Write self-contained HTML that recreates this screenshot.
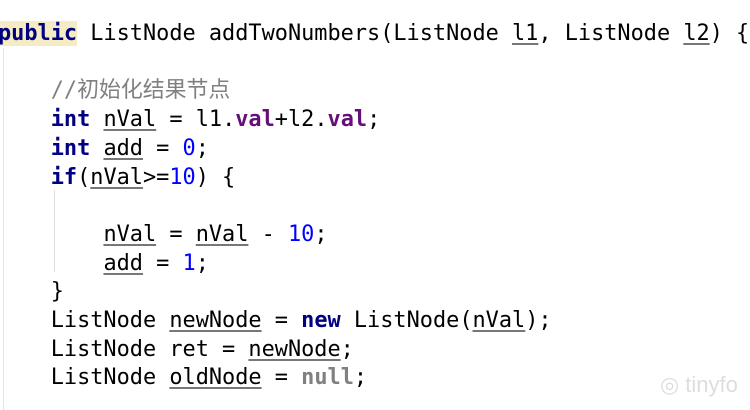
<!DOCTYPE html>
<html><head><meta charset="utf-8"><style>
body{margin:0;width:750px;height:410px;background:#fff;position:relative;overflow:hidden;font-family:"DejaVu Sans Mono","Liberation Mono","Noto Sans CJK SC",monospace;font-size:21.9px;color:#000}
.l{position:absolute;left:-2px;height:28.7px;line-height:28.7px;white-space:pre}
.k{color:#000080;font-weight:bold}
.p{color:#660e7a;font-weight:bold}
.n{color:#0000ff}
.c{color:#808080;font-family:"DejaVu Sans Mono","Noto Sans CJK SC",monospace}
.g{color:#808080;font-weight:bold}
.u{text-decoration:underline;text-decoration-color:#777;text-underline-offset:3px}
.hl{background:#f6ecc4}
</style></head><body>
<div style="position:absolute;left:3px;top:48px;width:1px;height:362px;background:#e4e4e4"></div>
<div style="position:absolute;left:54px;top:190px;width:1px;height:82px;background:#e0e0e0"></div>
<div class="l" style="top:20px"><span class="k hl">public</span> ListNode addTwoNumbers(ListNode <span class="u">l1</span>, ListNode <span class="u">l2</span>) {</div>
<div class="l" style="top:77.4px">    <span class="c">//初始化结果节点</span></div>
<div class="l" style="top:106.1px">    <span class="k">int</span> <span class="u">nVal</span> = l1.<span class="p">val</span>+l2.<span class="p">val</span>;</div>
<div class="l" style="top:134.8px">    <span class="k">int</span> <span class="u">add</span> = <span class="n">0</span>;</div>
<div class="l" style="top:163.5px">    <span class="k">if</span>(<span class="u">nVal</span>&gt;=<span class="n">10</span>) {</div>
<div class="l" style="top:220.9px">        <span class="u">nVal</span> = <span class="u">nVal</span> - <span class="n">10</span>;</div>
<div class="l" style="top:249.6px">        <span class="u">add</span> = <span class="n">1</span>;</div>
<div class="l" style="top:278.3px">    }</div>
<div class="l" style="top:307px">    ListNode <span class="u">newNode</span> = <span class="k">new</span> ListNode(<span class="u">nVal</span>);</div>
<div class="l" style="top:335.7px">    ListNode ret = <span class="u">newNode</span>;</div>
<div class="l" style="top:364.4px">    ListNode <span class="u">oldNode</span> = <span class="g">null</span>;</div>
<div style="position:absolute;left:660px;top:372px;color:#ddd;font-family:'Liberation Sans',sans-serif;font-size:22px">◎ tinyfo</div>
</body></html>
